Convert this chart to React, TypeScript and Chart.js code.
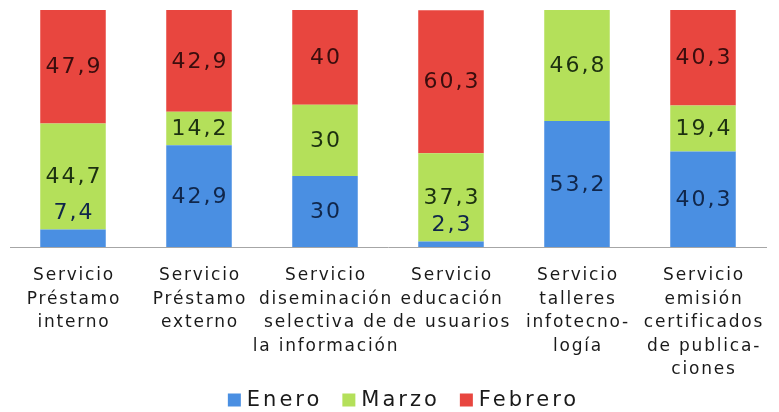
import React, { useEffect, useRef } from "react";
import { Chart, registerables } from "chart.js";

Chart.register(...registerables);

const categories: string[][] = [
  ["Servicio", "Préstamo", "interno"],
  ["Servicio", "Préstamo", "externo"],
  ["Servicio", "diseminación", "selectiva de", "la información"],
  ["Servicio", "educación", "de usuarios"],
  ["Servicio", "talleres", "infotecno-", "logía"],
  ["Servicio", "emisión", "certificados", "de publica-", "ciones"],
];
const enero: (number | null)[] = [7.4, 42.9, 30, 2.3, 53.2, 40.3];
const marzo: (number | null)[] = [44.7, 14.2, 30, 37.3, 46.8, 19.4];
const febrero: (number | null)[] = [47.9, 42.9, 40, 60.3, null, 40.3];
const seriesNames = ["Enero", "Marzo", "Febrero"];

const seriesColors = ["#4A8FE2", "#B4E05A", "#E8463F"];
const labelColors = ["#10264a", "#1c3010", "#3a0d0d"];
const FONT = '"DejaVu Sans", Verdana, sans-serif';

function fmt(v: number): string {
  return Number.isInteger(v) ? String(v) : String(v).replace(".", ",");
}

const customDraw = {
  id: "customDraw",
  afterDatasetsDraw(chart: any) {
    const ctx: CanvasRenderingContext2D = chart.ctx;
    ctx.save();
    // value labels
    ctx.font = `22px ${FONT}`;
    (ctx as any).letterSpacing = "2px";
    ctx.textAlign = "center";
    chart.data.datasets.forEach((ds: any, di: number) => {
      const meta = chart.getDatasetMeta(di);
      meta.data.forEach((bar: any, i: number) => {
        const v = ds.data[i];
        if (v === null || v === undefined || v === 0) return;
        const p = bar.getProps(["x", "y", "base"], true);
        const top = Math.min(p.y, p.base);
        const bottom = Math.max(p.y, p.base);
        const h = bottom - top;
        ctx.fillStyle = labelColors[di];
        if (h < 22) {
          ctx.textBaseline = "bottom";
          ctx.fillText(fmt(v), p.x + 1, top - 5);
        } else {
          ctx.textBaseline = "middle";
          ctx.fillText(fmt(v), p.x + 1, (top + bottom) / 2 + 1);
        }
      });
    });

    // category labels
    const xScale = chart.scales.x;
    ctx.font = `17px ${FONT}`;
    (ctx as any).letterSpacing = "1.8px";
    ctx.fillStyle = "#1a1a1a";
    ctx.textBaseline = "middle";
    ctx.textAlign = "center";
    categories.forEach((lines, i) => {
      const x = xScale.getPixelForValue(i);
      lines.forEach((ln, j) => {
        ctx.fillText(ln, x + 1, chart.chartArea.bottom + 29 + j * 23.5);
      });
    });

    // legend
    ctx.font = `21px ${FONT}`;
    (ctx as any).letterSpacing = "3px";
    const box = 13;
    const gapBoxText = 6;
    const gapItems = 20;
    const widths = seriesNames.map((n) => ctx.measureText(n).width);
    let total = 0;
    widths.forEach((w, i) => {
      total += box + gapBoxText + w + (i < widths.length - 1 ? gapItems : 0);
    });
    let x = chart.width / 2 + 14 - total / 2;
    const yMid = 400;
    ctx.textAlign = "left";
    ctx.textBaseline = "middle";
    seriesNames.forEach((n, i) => {
      ctx.fillStyle = seriesColors[i];
      ctx.fillRect(x, yMid - box / 2, box, box);
      x += box + gapBoxText;
      ctx.fillStyle = "#1a1a1a";
      ctx.fillText(n, x, yMid + 1);
      x += widths[i] + gapItems;
    });
    ctx.restore();
  },
};

export default function App() {
  const ref = useRef<HTMLCanvasElement>(null);
  useEffect(() => {
    if (!ref.current) return;
    const data = [enero, marzo, febrero];
    const chart = new Chart(ref.current, {
      type: "bar",
      data: {
        labels: categories.map((c) => c.join(" ")),
        datasets: seriesNames.map((name, i) => ({
          label: name,
          data: data[i],
          backgroundColor: seriesColors[i],
          borderWidth: 0,
          categoryPercentage: 1,
          barPercentage: 0.52,
        })),
      },
      options: {
        responsive: false,
        animation: false,
        layout: { padding: { left: 10, right: 13, top: 10, bottom: 165 } },
        plugins: {
          legend: { display: false },
          tooltip: { enabled: false },
        },
        scales: {
          x: {
            stacked: true,
            grid: { display: false, drawTicks: false },
            border: { display: true, color: "#a6a6a6", width: 1 },
            ticks: { display: false },
          },
          y: {
            stacked: true,
            display: false,
            min: 0,
            max: 100,
          },
        },
      },
      plugins: [customDraw],
    });
    return () => chart.destroy();
  }, []);
  return (
    <div style={{ position: "absolute", left: 0, top: 0, width: 779, height: 412, background: "#fff" }}>
      <canvas ref={ref} width={779} height={412} style={{ width: 779, height: 412, display: "block" }} />
    </div>
  );
}
